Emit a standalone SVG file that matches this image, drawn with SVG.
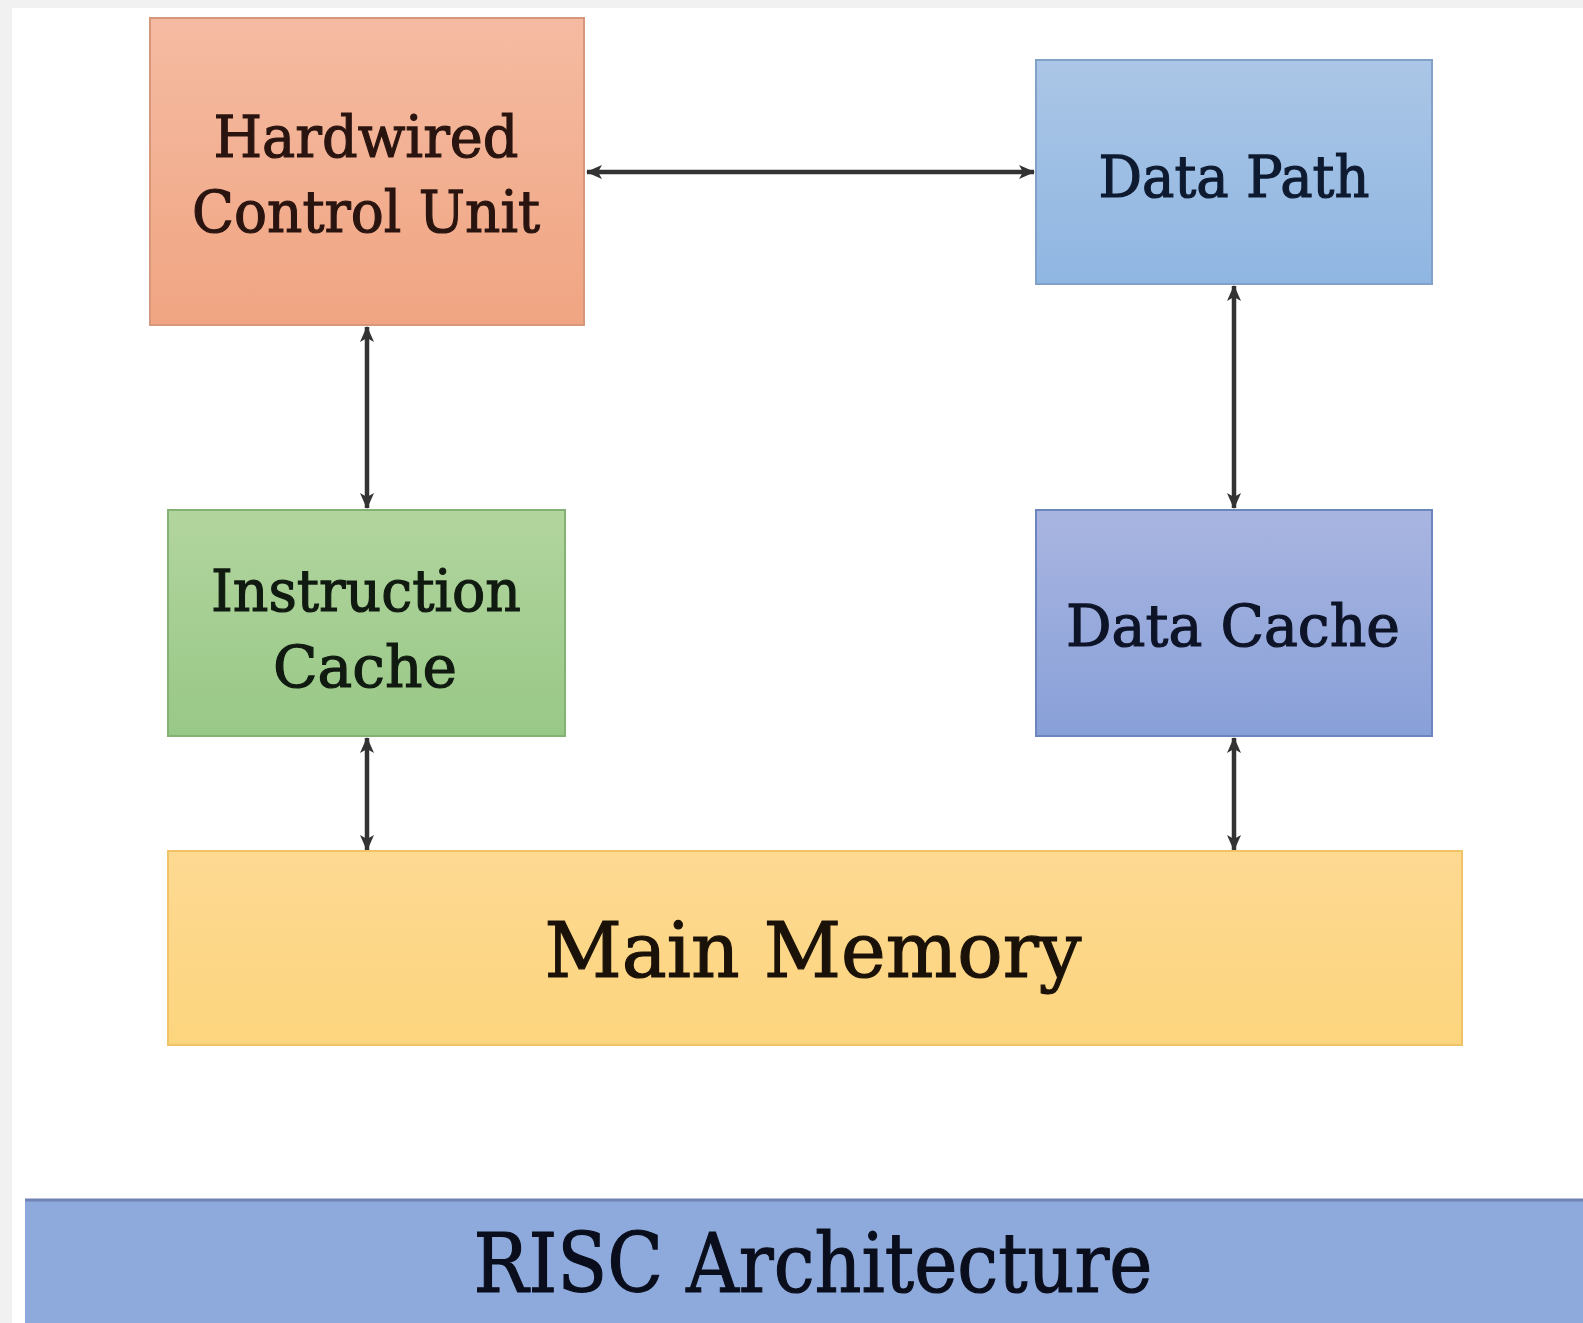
<svg xmlns="http://www.w3.org/2000/svg" width="1583" height="1323" viewBox="0 0 1583 1323">
  <defs>
    <linearGradient id="gOrange" x1="0" y1="0" x2="0" y2="1">
      <stop offset="0" stop-color="#f5bba2"/>
      <stop offset="1" stop-color="#f0a582"/>
    </linearGradient>
    <linearGradient id="gSky" x1="0" y1="0" x2="0" y2="1">
      <stop offset="0" stop-color="#abc6e6"/>
      <stop offset="1" stop-color="#8fb6e2"/>
    </linearGradient>
    <linearGradient id="gGreen" x1="0" y1="0" x2="0" y2="1">
      <stop offset="0" stop-color="#b2d59e"/>
      <stop offset="1" stop-color="#98c887"/>
    </linearGradient>
    <linearGradient id="gIndigo" x1="0" y1="0" x2="0" y2="1">
      <stop offset="0" stop-color="#a9b5e1"/>
      <stop offset="1" stop-color="#88a0d8"/>
    </linearGradient>
    <linearGradient id="gYellow" x1="0" y1="0" x2="0" y2="1">
      <stop offset="0" stop-color="#fdd992"/>
      <stop offset="1" stop-color="#fdd57e"/>
    </linearGradient>
    <marker id="head" viewBox="0 0 16 16" refX="15" refY="8" markerWidth="16" markerHeight="16" markerUnits="userSpaceOnUse" orient="auto-start-reverse">
      <path d="M0,1 L16,8 L0,15 L4,8 Z" fill="#333333"/>
    </marker>
  </defs>
  <style>
    .box { stroke-width: 2; }
    .lbl { font-family: "DejaVu Serif", "Liberation Serif", serif; text-anchor: middle; stroke-width: 1.2; }
    .link { stroke: #333333; stroke-width: 4.5; fill: none; marker-start: url(#head); marker-end: url(#head); }
  </style>

  <!-- page frame -->
  <rect x="0" y="0" width="1583" height="1323" fill="#f1f1f1"/>
  <rect x="12" y="8" width="1571" height="1315" fill="#ffffff"/>

  <!-- connectors -->
  <g id="connectors">
    <line class="link" x1="587" y1="172" x2="1034" y2="172"/>
    <line class="link" x1="367" y1="327" x2="367" y2="508"/>
    <line class="link" x1="367" y1="738" x2="367" y2="850"/>
    <line class="link" x1="1234" y1="286" x2="1234" y2="508"/>
    <line class="link" x1="1234" y1="738" x2="1234" y2="850"/>
  </g>

  <g id="hardwired-control-unit">
    <rect class="box" x="150" y="18" width="434" height="307" fill="url(#gOrange)" stroke="#d6977a"/>
    <text class="lbl" x="366" y="157" font-size="58" fill="#2a1410" stroke="#2a1410" textLength="305" lengthAdjust="spacingAndGlyphs">Hardwired</text>
    <text class="lbl" x="366" y="232" font-size="58" fill="#2a1410" stroke="#2a1410" textLength="348" lengthAdjust="spacingAndGlyphs">Control Unit</text>
  </g>

  <g id="data-path">
    <rect class="box" x="1036" y="60" width="396" height="224" fill="url(#gSky)" stroke="#82a1c9"/>
    <text class="lbl" x="1234" y="197" font-size="58" fill="#0e1a30" stroke="#0e1a30" textLength="271" lengthAdjust="spacingAndGlyphs">Data Path</text>
  </g>

  <g id="instruction-cache">
    <rect class="box" x="168" y="510" width="397" height="226" fill="url(#gGreen)" stroke="#84b274"/>
    <text class="lbl" x="366" y="611" font-size="58" fill="#101a10" stroke="#101a10" textLength="310" lengthAdjust="spacingAndGlyphs">Instruction</text>
    <text class="lbl" x="365" y="687" font-size="58" fill="#101a10" stroke="#101a10" textLength="184" lengthAdjust="spacingAndGlyphs">Cache</text>
  </g>

  <g id="data-cache">
    <rect class="box" x="1036" y="510" width="396" height="226" fill="url(#gIndigo)" stroke="#6d85bf"/>
    <text class="lbl" x="1233" y="646" font-size="58" fill="#0e1428" stroke="#0e1428" textLength="334" lengthAdjust="spacingAndGlyphs">Data Cache</text>
  </g>

  <g id="main-memory">
    <rect class="box" x="168" y="851" width="1294" height="194" fill="url(#gYellow)" stroke="#f0c466"/>
    <text class="lbl" x="813" y="977" font-size="77" fill="#1a1208" stroke="#1a1208" textLength="537" lengthAdjust="spacingAndGlyphs">Main Memory</text>
  </g>

  <g id="title-bar">
    <rect x="25" y="1199" width="1560" height="126" fill="#8eaadc"/>
    <line x1="25" y1="1200" x2="1583" y2="1200" stroke="#6f84b4" stroke-width="3"/>
    <text class="lbl" x="813" y="1292" font-size="82" fill="#0a0e1c" stroke="#0a0e1c" stroke-width="1.6" textLength="679" lengthAdjust="spacingAndGlyphs">RISC Architecture</text>
  </g>
</svg>
